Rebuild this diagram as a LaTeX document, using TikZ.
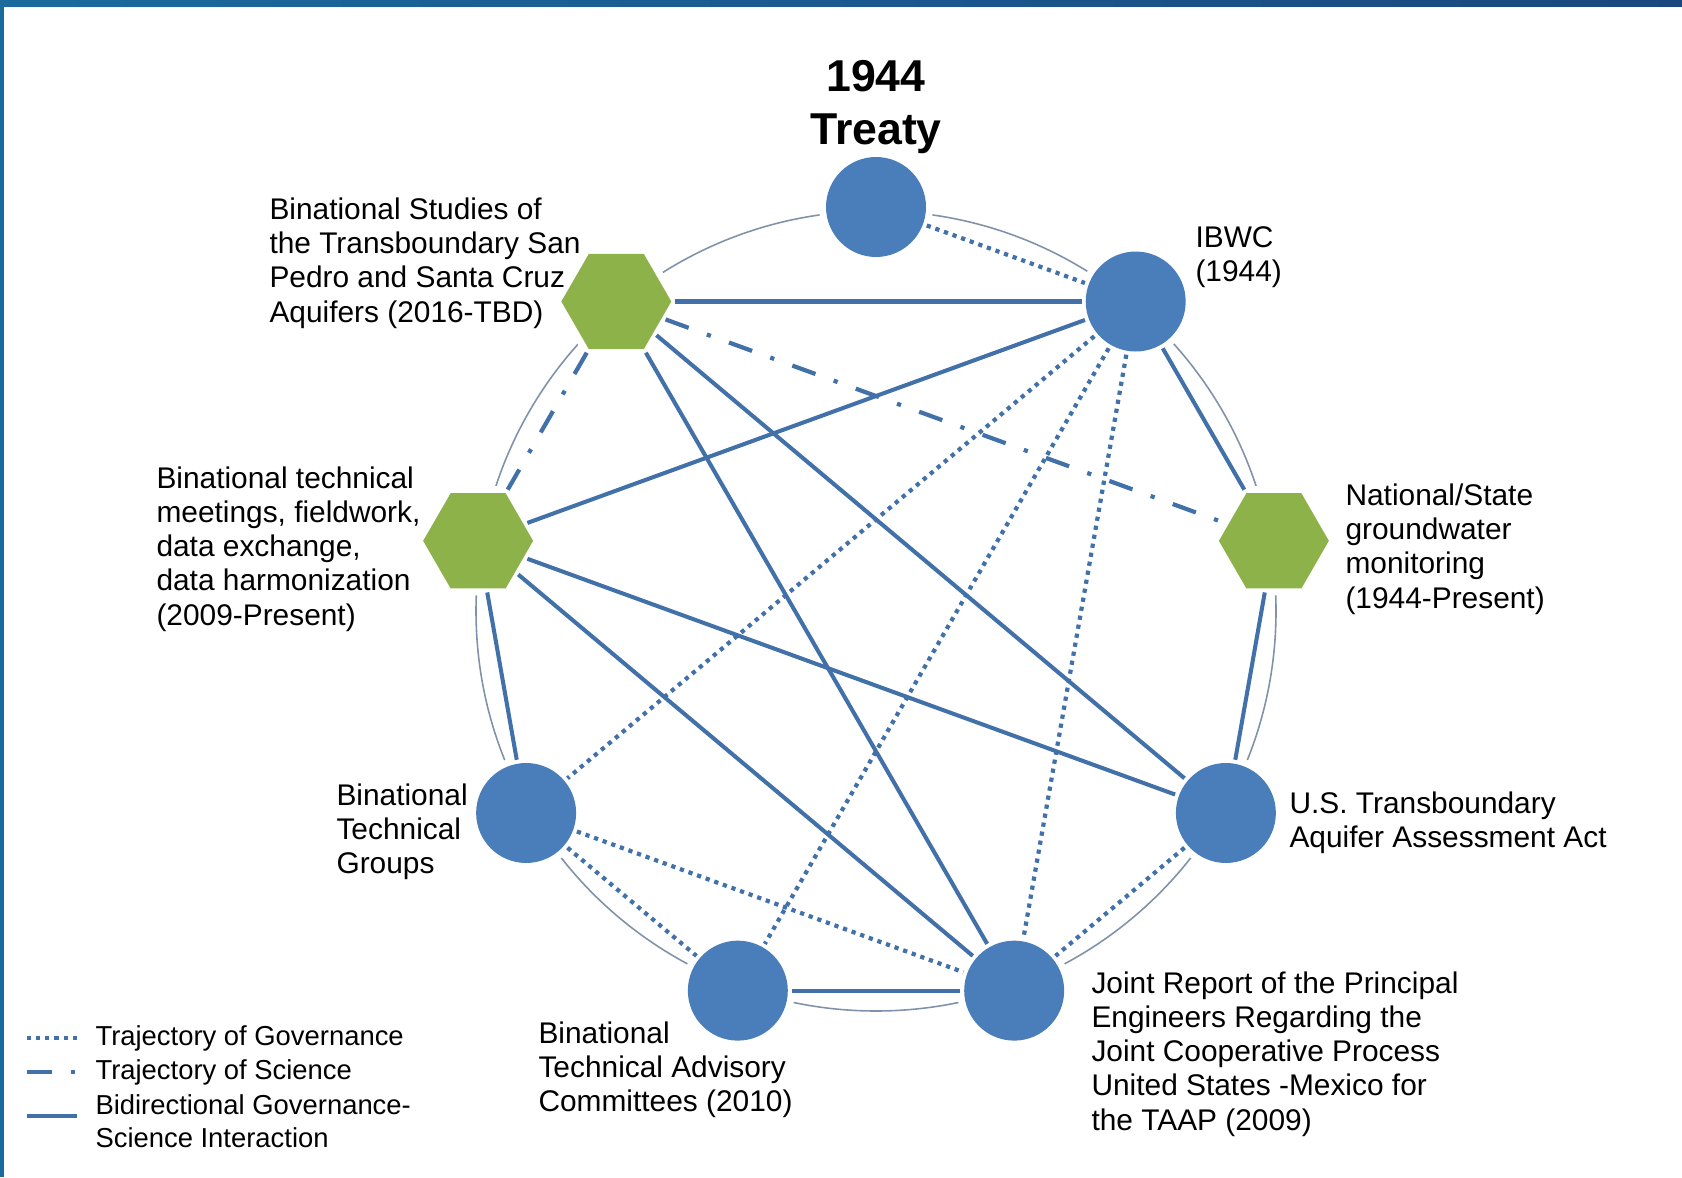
\documentclass[tikz,border=0pt]{standalone}
\usepackage{fontspec}
\setmainfont{Liberation Sans}
\usetikzlibrary{shapes.geometric}

\definecolor{nodeblue}{RGB}{74,126,187}
\definecolor{linkblue}{RGB}{66,112,168}
\definecolor{hexgreen}{RGB}{141,178,74}
\definecolor{ringgray}{RGB}{128,146,170}
\definecolor{barblue}{RGB}{27,106,158}
\definecolor{bardark}{RGB}{26,72,126}

\newcommand{\lblfont}{\fontsize{17}{19.5}\selectfont}
\newcommand{\keyfont}{\fontsize{15.6}{18.9}\selectfont}

\begin{document}
\begin{tikzpicture}[x=0.02cm,y=0.02cm,semithick,
                    shorten >=2pt,shorten <=2pt]
  \tikzstyle{halo}=[preaction={draw=white,line width=8pt,line join=round}]
  \tikzstyle{actor}=[circle,halo,fill=nodeblue,minimum size=2cm,inner sep=0pt]
  \tikzstyle{study}=[regular polygon,regular polygon sides=6,halo,fill=hexgreen,
                     minimum size=2.2cm,inner sep=0pt]
  \tikzstyle{gov}=[linkblue,line width=2.4pt,dash pattern=on 2.4pt off 2.8pt]
  \tikzstyle{sci}=[linkblue,line width=2.4pt,dash pattern=on 14pt off 11pt on 2.4pt off 11pt]
  \tikzstyle{bid}=[linkblue,line width=2.3pt]
  \tikzstyle{lbl}=[anchor=west,align=left,inner sep=0pt,font=\lblfont]
  \tikzstyle{key}=[lbl,font=\keyfont]

  \useasboundingbox (0,0) rectangle (1682,1177);
  \shade[left color=barblue,right color=bardark] (0,1170) rectangle (1682,1177);
  \fill[barblue] (0,0) rectangle (4,1177);

  % ring
  \coordinate (ctr) at (876,566);
  \draw[ringgray,line width=0.9pt] (ctr) circle (400);

  \node[actor] (treaty)  at ([shift={(90:404)}]ctr)   {};
  \node[actor] (ibwc)    at ([shift={(50:404)}]ctr)   {};
  \node[study] (natl)    at ([shift={(10:404)}]ctr)   {};
  \node[actor] (usact)   at ([shift={(-30:404)}]ctr)  {};
  \node[actor] (joint)   at ([shift={(-70:404)}]ctr)  {};
  \node[actor] (advis)   at ([shift={(-110:404)}]ctr) {};
  \node[actor] (groups)  at ([shift={(-150:404)}]ctr) {};
  \node[study] (meet)    at ([shift={(170:404)}]ctr)  {};
  \node[study] (studies) at ([shift={(130:404)}]ctr)  {};

  \path (treaty)  edge [gov] (ibwc)
        (ibwc)    edge [gov] (groups)
        (ibwc)    edge [gov] (advis)
        (ibwc)    edge [gov] (joint)
        (groups)  edge [gov] (joint)
        (groups)  edge [gov] (advis)
        (usact)   edge [gov] (joint)
        (studies) edge [sci] (meet)
        (studies) edge [sci] (natl)
        (studies) edge [bid] (ibwc)
        (studies) edge [bid] (usact)
        (studies) edge [bid] (joint)
        (meet)    edge [bid] (ibwc)
        (meet)    edge [bid] (usact)
        (meet)    edge [bid] (joint)
        (meet)    edge [bid] (groups)
        (ibwc)    edge [bid] (natl)
        (natl)    edge [bid] (usact)
        (advis)   edge [bid] (joint);

  \node[align=center,inner sep=0pt,font=\fontsize{25.4}{30.5}\selectfont\bfseries]
        (treatylbl) at (876,1070) {1944\\Treaty};
  \node[lbl] (ibwclbl)    at (1195,920) {IBWC\\(1944)};
  \node[lbl] (natllbl)    at (1345,628) {National/State\\groundwater\\monitoring\\(1944-Present)};
  \node[lbl] (usactlbl)   at (1289,354) {U.S. Transboundary\\Aquifer Assessment Act};
  \node[lbl] (jointlbl)   at (1091,123) {Joint Report of the Principal\\Engineers Regarding the\\Joint Cooperative Process\\United States -Mexico for\\the TAAP (2009)};
  \node[lbl] (advislbl)   at (538,107)  {Binational\\Technical Advisory\\Committees (2010)};
  \node[lbl] (groupslbl)  at (336,345)  {Binational\\Technical\\Groups};
  \node[lbl] (meetlbl)    at (156,628)  {Binational technical\\meetings, fieldwork,\\data exchange,\\data harmonization\\(2009-Present)};
  \node[lbl] (studieslbl) at (269,914)  {Binational Studies of\\the Transboundary San\\Pedro and Santa Cruz\\Aquifers (2016-TBD)};

  % legend
  \coordinate (govA) at (27,139);  \coordinate (govB) at (78,139);
  \coordinate (sciA) at (27,105);  \coordinate (sciB) at (76,105);
  \coordinate (bidA) at (27,61);   \coordinate (bidB) at (77,61);
  \draw[gov,shorten >=0pt,shorten <=0pt] (govA) -- (govB);
  \draw[sci,shorten >=0pt,shorten <=0pt] (sciA) -- (sciB);
  \draw[bid,line width=2.6pt,shorten >=0pt,shorten <=0pt] (bidA) -- (bidB);
  \node[key] (govlbl) at (95,139) {Trajectory of Governance};
  \node[key] (scilbl) at (95,105) {Trajectory of Science};
  \node[key] (bidlbl) at (95,56)  {Bidirectional Governance-\\Science Interaction};
\end{tikzpicture}
\end{document}
